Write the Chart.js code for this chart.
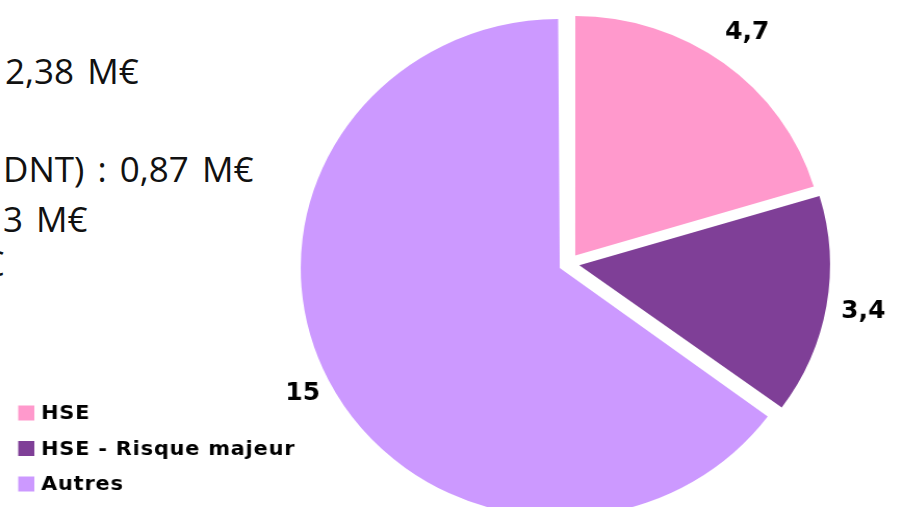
<!DOCTYPE html>
<html lang="fr">
<head>
<meta charset="utf-8">
<script src="https://cdn.jsdelivr.net/npm/chart.js@4"></script>
<style>
  html, body { margin: 0; padding: 0; background: #fff; overflow: hidden; }
  #wrap { position: relative; width: 904px; height: 507px; }
  /* le graphique d'origine est légèrement étiré en largeur */
  #stretch { position: absolute; left: 0; top: 0; width: 869px; height: 507px; transform: scaleX(1.0403); transform-origin: 0 0; }
  .txt { position: absolute; font-family: "Open Sans", sans-serif; font-size: 35px; color: #111; white-space: nowrap; line-height: 1; word-spacing: 4px; }
</style>
</head>
<body>
<div id="wrap">
  <div class="txt" style="left:5px; top:53px;">2,38 M€</div>
  <div class="txt" style="left:3px; top:151px;">DNT) : 0,87 M€</div>
  <div class="txt" style="left:3px; top:201px;">3 M€</div>
  <div class="txt" style="left:-16px; top:245px;">€</div>
  <div id="stretch"><canvas id="chart" width="869" height="507"></canvas></div>
</div>
<script>
// données du graphique
const categories = ['HSE', 'HSE - Risque majeur', 'Autres'];
const valeurs = [4.7, 3.4, 15];
const couleurs = ['#FF99CC', '#7F3F97', '#CC99FF'];

// format français : virgule décimale
const fmt = v => String(v).replace('.', ',');

// étiquettes de valeur à l'extérieur des parts
const etiquettes = {
    id: 'etiquettes',
    afterDatasetsDraw(chart) {
        const ctx = chart.ctx;
        const meta = chart.getDatasetMeta(0);
        const base = meta.controller.outerRadius;
        ctx.save();
        ctx.font = 'bold 24px "DejaVu Sans", sans-serif';
        ctx.fillStyle = '#000';
        ctx.textAlign = 'center';
        ctx.textBaseline = 'middle';
        meta.data.forEach((arc, i) => {
            const { x, y, startAngle, endAngle } = arc.getProps(['x', 'y', 'startAngle', 'endAngle'], true);
            const mid = (startAngle + endAngle) / 2;
            const r = base + 48;
            ctx.fillText(fmt(chart.data.datasets[0].data[i]), x + Math.cos(mid) * r, y + Math.sin(mid) * r);
        });
        ctx.restore();
    }
};

// légende en bas à gauche
const legende = {
    id: 'legende',
    afterDraw(chart) {
        const ctx = chart.ctx;
        const ds = chart.data.datasets[0];
        ctx.save();
        ctx.font = 'bold 20px "DejaVu Sans", sans-serif';
        ctx.letterSpacing = '0.8px';
        ctx.textBaseline = 'middle';
        chart.data.labels.forEach((lab, i) => {
            const cy = 413 + i * 35.5;
            ctx.fillStyle = ds.backgroundColor[i];
            ctx.fillRect(17.5, cy - 7.5, 15.5, 15);
            ctx.fillStyle = '#000';
            ctx.fillText(lab, 39.5, cy + 1);
        });
        ctx.restore();
    }
};

new Chart(document.getElementById('chart'), {
    type: 'pie',
    data: {
        labels: categories,
        datasets: [{
            data: valeurs,
            backgroundColor: couleurs,
            borderWidth: 0,
            offset: 40,
            radius: 239
        }]
    },
    options: {
        responsive: false,
        animation: false,
        layout: { padding: { left: 225, right: 0, top: 20, bottom: 0 } },
        plugins: {
            legend: { display: false },
            tooltip: { enabled: false }
        }
    },
    plugins: [etiquettes, legende]
});
</script>
</body>
</html>
